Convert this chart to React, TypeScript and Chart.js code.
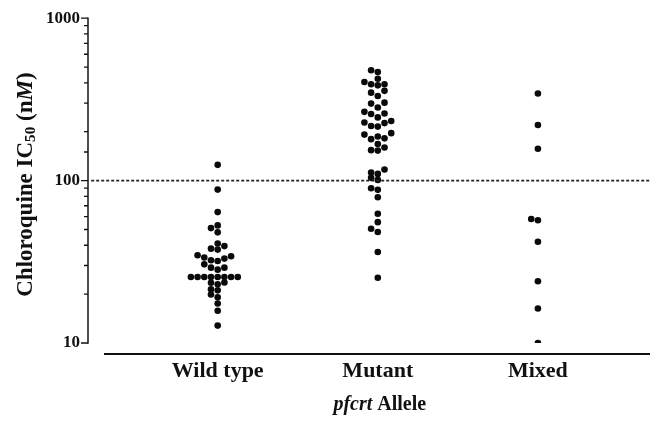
import React, { useEffect, useRef } from 'react';
import { Chart, registerables } from 'chart.js';

Chart.register(...registerables);

// ---- data ----
const categories = ['Wild type', 'Mutant', 'Mixed'];
const wildType = [
  125, 88, 64, 53, 51, 48, 41, 39.5, 37.6, 38.1, 34.7, 33.6, 32.3, 32.0, 33.1, 34.2,
  29.1, 28.3, 29.1, 30.5, 25.5, 25.5, 25.5, 25.5, 25.5, 25.5, 25.5, 25.5,
  23.6, 23.0, 23.5, 21.1, 21.4, 19.9, 19.1, 17.5, 15.8, 12.8,
];
const mutant = [
  478, 466, 424, 405, 392, 386, 392, 357, 332, 348, 298, 282, 302, 259, 245, 257, 265,
  228, 217, 215, 226, 233, 196, 187, 180, 182, 192, 168, 154, 153, 160,
  112, 117, 110, 104, 101, 87.7, 89.7, 79, 62.5, 55.5, 48.2, 50.5, 36.3, 25.2,
];
const mixed = [344, 220, 157, 58, 57, 42, 24, 16.3, 10];
const yTickLabels = [10, 100, 1000];
const cutoff = 100;

const SERIF = '"Liberation Serif", "DejaVu Serif", serif';
const X_MIN = 0.19;
const X_MAX = 3.7;

// binned dot-plot layout: values close in pixel height share a row
function swarm(values: number[], center: number, xs: any, ys: any, d: number) {
  const order = values.map((_, i) => i).sort((a, b) => values[a] - values[b]);
  const cx = xs.getPixelForValue(center);
  const out: { x: number; y: number }[] = new Array(values.length);
  const placed: { x: number; y: number }[] = [];
  const seq = [0];
  for (let k = 1; k < 30; k++) seq.push(-k, k);
  let k = 0;
  while (k < order.length) {
    const startY = ys.getPixelForValue(values[order[k]]);
    const bin: number[] = [];
    while (k < order.length && startY - ys.getPixelForValue(values[order[k]]) < 5.8) {
      bin.push(order[k]);
      k++;
    }
    let s = 0;
    for (const i of bin) {
      const py = ys.getPixelForValue(values[i]);
      let px = cx;
      while (s < seq.length) {
        const cand = cx + seq[s] * d;
        s++;
        if (placed.every((p) => Math.hypot(p.x - cand, p.y - py) >= d * 0.75)) {
          px = cand;
          break;
        }
      }
      placed.push({ x: px, y: py });
      out[i] = { x: xs.getValueForPixel(px), y: values[i] };
    }
  }
  return out;
}

const paperAxes = {
  id: 'paperAxes',
  afterDraw(chart: any) {
    const { ctx, scales } = chart;
    const x = scales.x;
    const y = scales.y;
    const ax = chart.chartArea.left;
    const yTop = y.getPixelForValue(1000);
    const yBot = y.getPixelForValue(10);
    ctx.save();
    ctx.strokeStyle = '#111';
    ctx.lineWidth = 1.5;
    ctx.beginPath();
    ctx.moveTo(ax, yTop - 0.75);
    ctx.lineTo(ax, yBot + 0.75);
    ctx.stroke();
    ctx.lineWidth = 1.3;
    ctx.beginPath();
    y.ticks.forEach((t: any) => {
      const major = yTickLabels.includes(t.value);
      const py = y.getPixelForValue(t.value);
      ctx.moveTo(ax - (major ? 7 : 4), py);
      ctx.lineTo(ax, py);
    });
    ctx.stroke();
    ctx.lineWidth = 2;
    ctx.beginPath();
    const by = yBot + 11;
    ctx.moveTo(x.getPixelForValue(0.29), by);
    ctx.lineTo(chart.chartArea.right, by);
    ctx.stroke();

    // y title: Chloroquine IC50 (nM)
    ctx.fillStyle = '#111';
    const big = 23;
    const segs = [
      { t: 'Chloroquine IC', f: `bold ${big}px ${SERIF}`, dy: 0 },
      { t: '50', f: `bold ${big * 0.66}px ${SERIF}`, dy: 5 },
      { t: ' (n', f: `bold ${big}px ${SERIF}`, dy: 0 },
      { t: 'M', f: `italic bold ${big}px ${SERIF}`, dy: 0 },
      { t: ')', f: `bold ${big}px ${SERIF}`, dy: 0 },
    ];
    ctx.save();
    ctx.translate(26, (yTop + yBot) / 2 + 4);
    ctx.rotate(-Math.PI / 2);
    ctx.textBaseline = 'middle';
    ctx.textAlign = 'left';
    let total = 0;
    segs.forEach((s) => {
      ctx.font = s.f;
      total += ctx.measureText(s.t).width;
    });
    let cur = -total / 2;
    segs.forEach((s) => {
      ctx.font = s.f;
      ctx.fillText(s.t, cur, s.dy);
      cur += ctx.measureText(s.t).width;
    });
    ctx.restore();

    // x title: pfcrt Allele
    const xsegs = [
      { t: 'pfcrt', f: `italic bold 20px ${SERIF}` },
      { t: ' Allele', f: `bold 20px ${SERIF}` },
    ];
    ctx.textBaseline = 'middle';
    ctx.textAlign = 'left';
    let tw = 0;
    xsegs.forEach((s) => {
      ctx.font = s.f;
      tw += ctx.measureText(s.t).width;
    });
    let xc = x.getPixelForValue(2) + 2 - tw / 2;
    xsegs.forEach((s) => {
      ctx.font = s.f;
      ctx.fillText(s.t, xc, 405);
      xc += ctx.measureText(s.t).width;
    });
    ctx.restore();
  },
};

export default function App() {
  const ref = useRef<HTMLCanvasElement | null>(null);

  useEffect(() => {
    if (!ref.current) return;
    const groups = [wildType, mutant, mixed];
    const pointDs = (vals: number[], i: number) => ({
      type: 'scatter' as const,
      label: categories[i],
      data: vals.map((v) => ({ x: i + 1, y: v })),
      backgroundColor: '#0a0a0a',
      borderWidth: 0,
      pointRadius: 3.3,
      pointHoverRadius: 3.3,
    });
    const chart = new Chart(ref.current, {
      type: 'scatter',
      data: {
        datasets: [
          {
            type: 'line',
            label: 'cutoff',
            data: [
              { x: X_MIN + 0.02, y: cutoff },
              { x: X_MAX, y: cutoff },
            ],
            borderColor: '#222',
            borderWidth: 1.6,
            borderDash: [3, 2],
            pointRadius: 0,
            fill: false,
          } as any,
          ...groups.map(pointDs),
        ],
      },
      options: {
        animation: false,
        responsive: true,
        maintainAspectRatio: false,
        events: [],
        layout: { padding: { top: 17, right: 12, bottom: 0, left: 0 } },
        plugins: { legend: { display: false }, tooltip: { enabled: false } },
        scales: {
          x: {
            type: 'linear',
            min: X_MIN,
            max: X_MAX,
            grid: { display: false, drawTicks: false },
            border: { display: false },
            afterBuildTicks: (s: any) => {
              s.ticks = categories.map((_, i) => ({ value: i + 1 }));
            },
            afterFit: (s: any) => {
              s.height = 78;
            },
            ticks: {
              autoSkip: false,
              padding: 15,
              color: '#111',
              font: { family: SERIF, size: 22, weight: 'bold' },
              callback: (v: any) => categories[Number(v) - 1] ?? '',
            },
          },
          y: {
            type: 'logarithmic',
            min: 10,
            max: 1000,
            grid: { display: false, drawTicks: false },
            border: { display: false },
            afterFit: (s: any) => {
              s.width = 88;
            },
            ticks: {
              autoSkip: false,
              padding: 8,
              color: '#111',
              font: { family: SERIF, size: 17, weight: 'bold' },
              callback: (v: any) => (yTickLabels.includes(Number(v)) ? String(v) : ''),
            },
          },
        },
      },
      plugins: [paperAxes],
    });

    const xs = chart.scales.x;
    const ys = chart.scales.y;
    groups.forEach((vals, i) => {
      (chart.data.datasets[i + 1] as any).data = swarm(vals, i + 1, xs, ys, 6.7);
    });
    chart.update('none');

    return () => chart.destroy();
  }, []);

  return (
    <div style={{ position: 'fixed', left: 0, top: 0, width: 662, height: 421, background: '#fff' }}>
      <canvas ref={ref} />
    </div>
  );
}
